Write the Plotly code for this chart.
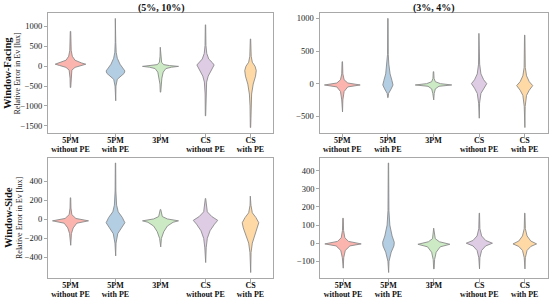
import plotly.graph_objects as go

CATEGORIES = ["5PM<br>without PE", "5PM<br>with PE", "3PM", "CS<br>without PE", "CS<br>with PE"]
COLORS = ["#fbb4ae", "#b3cde3", "#ccebc5", "#decbe4", "#fed9a6"]
COL_TITLES = ["(5%, 10%)", "(3%, 4%)"]
ROW_TITLES = ["Window-Facing", "Window-Side"]
Y_TITLE = "Relative Error in Ev [lux]"

# error levels (lux) along each violin, bottom tip to top tip,
# and the relative density (1 = widest violin of the panel) at each level
FACING_5_10_LEVELS = [
    [-536, -300, -100, -30, 20, 50, 80, 150, 250, 400, 875],
    [-870, -500, -330, -250, -180, -120, -50, 50, 200, 350, 600, 1200],
    [-653, -450, -300, -150, -60, -25, -5, 15, 40, 100, 250, 476],
    [-1250, -700, -400, -250, -120, -20, 30, 90, 180, 320, 520, 1040],
    [-1543, -1000, -700, -450, -250, -110, 0, 100, 250, 685],
]
FACING_5_10_DENSITY = [
    [0.012, 0.025, 0.075, 0.25, 0.62, 0.85, 0.62, 0.25, 0.1, 0.038, 0.012],
    [0.012, 0.025, 0.1, 0.3, 0.48, 0.52, 0.42, 0.25, 0.1, 0.038, 0.015, 0.01],
    [0.012, 0.03, 0.075, 0.15, 0.3, 0.62, 1.0, 0.5, 0.17, 0.06, 0.025, 0.012],
    [0.01, 0.02, 0.062, 0.15, 0.3, 0.42, 0.48, 0.38, 0.18, 0.07, 0.025, 0.01],
    [0.01, 0.025, 0.062, 0.15, 0.28, 0.32, 0.25, 0.1, 0.038, 0.01],
]

FACING_3_4_LEVELS = [
    [-434, -250, -120, -50, -20, 10, 60, 150, 337],
    [-214, -150, -80, -20, 50, 150, 300, 450, 1000],
    [-249, -150, -80, -40, -20, 0, 30, 80, 184],
    [-530, -300, -150, -70, 0, 60, 150, 300, 771],
    [-673, -350, -180, -100, -30, 30, 120, 250, 745],
]
FACING_3_4_DENSITY = [
    [0.012, 0.03, 0.1, 0.3, 0.98, 0.3, 0.1, 0.03, 0.012],
    [0.01, 0.038, 0.18, 0.28, 0.22, 0.12, 0.05, 0.02, 0.01],
    [0.012, 0.038, 0.1, 0.3, 1.0, 0.38, 0.1, 0.03, 0.012],
    [0.01, 0.025, 0.1, 0.25, 0.42, 0.25, 0.1, 0.03, 0.01],
    [0.01, 0.025, 0.1, 0.25, 0.44, 0.25, 0.1, 0.03, 0.01],
]

SIDE_5_10_LEVELS = [
    [-273, -150, -90, -40, -15, 10, 50, 120, 228],
    [-385, -250, -150, -90, -35, 20, 80, 150, 300, 595],
    [-290, -200, -130, -70, -30, -15, 5, 30, 105],
    [-455, -300, -200, -120, -50, -10, 30, 80, 221],
    [-560, -350, -250, -160, -90, -35, 20, 70, 150, 245],
]
SIDE_5_10_DENSITY = [
    [0.012, 0.05, 0.15, 0.35, 1.0, 0.3, 0.075, 0.025, 0.012],
    [0.01, 0.03, 0.125, 0.35, 0.52, 0.38, 0.15, 0.062, 0.02, 0.01],
    [0.012, 0.05, 0.18, 0.38, 0.7, 1.0, 0.38, 0.1, 0.012],
    [0.01, 0.038, 0.1, 0.25, 0.5, 0.68, 0.35, 0.1, 0.01],
    [0.01, 0.03, 0.1, 0.25, 0.4, 0.46, 0.3, 0.1, 0.025, 0.01],
]

SIDE_3_4_LEVELS = [
    [-138, -80, -40, -15, -4, 10, 30, 70, 138],
    [-162, -100, -50, -15, 5, 40, 100, 180, 443],
    [-142, -90, -50, -20, -6, 8, 25, 83],
    [-142, -80, -40, -15, 0, 15, 40, 80, 166],
    [-142, -80, -40, -18, -4, 12, 40, 80, 166],
]
SIDE_3_4_DENSITY = [
    [0.012, 0.038, 0.125, 0.38, 1.0, 0.3, 0.1, 0.03, 0.012],
    [0.01, 0.03, 0.15, 0.3, 0.32, 0.2, 0.075, 0.025, 0.01],
    [0.012, 0.038, 0.125, 0.35, 0.88, 0.3, 0.075, 0.012],
    [0.01, 0.03, 0.125, 0.35, 0.72, 0.35, 0.125, 0.03, 0.01],
    [0.01, 0.03, 0.125, 0.33, 0.65, 0.33, 0.125, 0.03, 0.01],
]

W, H = 550, 298
HALF_WIDTH = 0.4
FONT = "Liberation Serif"
FRAME = "#a8a8a8"

# (levels, density, x domain px, y domain px (top, bottom), tick step)
panels = [
    (FACING_5_10_LEVELS, FACING_5_10_DENSITY, (48, 273), (13, 133), 500),
    (FACING_3_4_LEVELS, FACING_3_4_DENSITY, (319.5, 547.5), (13, 133), 500),
    (SIDE_5_10_LEVELS, SIDE_5_10_DENSITY, (48, 273), (157.5, 278), 200),
    (SIDE_3_4_LEVELS, SIDE_3_4_DENSITY, (320.3, 547.5), (157.5, 278), 100),
]

first_lines = ["<b>%s</b>" % c.split("<br>")[0] for c in CATEGORIES]
second_lines = ["<b>%s</b>" % (c.split("<br>") + [""])[1] for c in CATEGORIES]

fig = go.Figure()
layout = {}
for i, (levels, density, xd, yd, step) in enumerate(panels):
    n = "" if i == 0 else str(i + 1)
    m = str(i + 5)
    for k, (lv, dn) in enumerate(zip(levels, density)):
        xs = [k + HALF_WIDTH * d for d in dn] + [k - HALF_WIDTH * d for d in dn[::-1]]
        ys = list(lv) + list(lv[::-1])
        fig.add_trace(go.Scatter(
            x=xs + [xs[0]], y=ys + [ys[0]], mode="lines", fill="toself",
            fillcolor=COLORS[k], line=dict(color="#8a8a8a", width=0.9),
            xaxis="x" + n, yaxis="y" + n, showlegend=False, hoverinfo="skip",
        ))
    lo = min(min(v) for v in levels)
    hi = max(max(v) for v in levels)
    pad = 0.05 * (hi - lo)
    first = -(-lo // step) * step
    ticks = list(range(int(first), int(hi) + 1, step))
    common = dict(showline=True, mirror=True, linecolor=FRAME, linewidth=1,
                  showgrid=False, zeroline=False, ticks="outside", ticklen=3,
                  tickcolor=FRAME, automargin=False,
                  tickfont=dict(family=FONT, size=8.5, color="#222"))
    xfont = dict(family=FONT, size=8, color="#111")
    xdom = [xd[0] / W, xd[1] / W]
    layout["xaxis" + n] = dict(common, domain=xdom, range=[-0.5, 4.5],
                               tickvals=list(range(5)), ticktext=first_lines,
                               tickfont=xfont, ticklabelstandoff=-4, anchor="y" + n)
    # second line of each category label, set just below the first
    layout["xaxis" + m] = dict(common, domain=xdom, range=[-0.5, 4.5],
                               overlaying="x" + n, anchor="y" + n, side="bottom",
                               showline=False, tickcolor="rgba(0,0,0,0)",
                               tickvals=list(range(5)), ticktext=second_lines,
                               tickfont=xfont, ticklabelstandoff=5)
    layout["yaxis" + n] = dict(common, domain=[1 - yd[1] / H, 1 - yd[0] / H],
                               range=[lo - pad, hi + pad], tickvals=ticks,
                               anchor="x" + n)
    # invisible point so the second-line axis gets drawn
    fig.add_trace(go.Scatter(x=[0], y=[levels[0][0]], mode="markers",
                             marker=dict(opacity=0), xaxis="x" + m, yaxis="y" + n,
                             showlegend=False, hoverinfo="skip"))

annotations = []
for title, xc in zip(COL_TITLES, [161, 433.5]):
    annotations.append(dict(text="<b>%s</b>" % title, x=xc / W, y=1 - 7.5 / H,
                            xanchor="center", yanchor="middle",
                            xref="paper", yref="paper", showarrow=False,
                            font=dict(family=FONT, size=10, color="#111")))
for title, yc, xt, xl in zip(ROW_TITLES, [73, 218], [7, 8], [16.5, 19]):
    annotations.append(dict(text="<b>%s</b>" % title, x=xt / W, y=1 - yc / H,
                            xanchor="center", yanchor="middle",
                            xref="paper", yref="paper", showarrow=False, textangle=-90,
                            font=dict(family=FONT, size=10.5, color="#111")))
    annotations.append(dict(text=Y_TITLE, x=xl / W, y=1 - yc / H,
                            xanchor="center", yanchor="middle",
                            xref="paper", yref="paper", showarrow=False, textangle=-90,
                            font=dict(family=FONT, size=8, color="#222")))

fig.update_layout(
    width=W, height=H, margin=dict(l=0, r=0, t=0, b=0),
    paper_bgcolor="white", plot_bgcolor="white",
    annotations=annotations, **layout,
)
# the page body has a default 8px margin; drop it so the figure fills the window
fig.write_html("out.html", config={"displayModeBar": False},
               post_script="document.body.style.margin = '0';")
